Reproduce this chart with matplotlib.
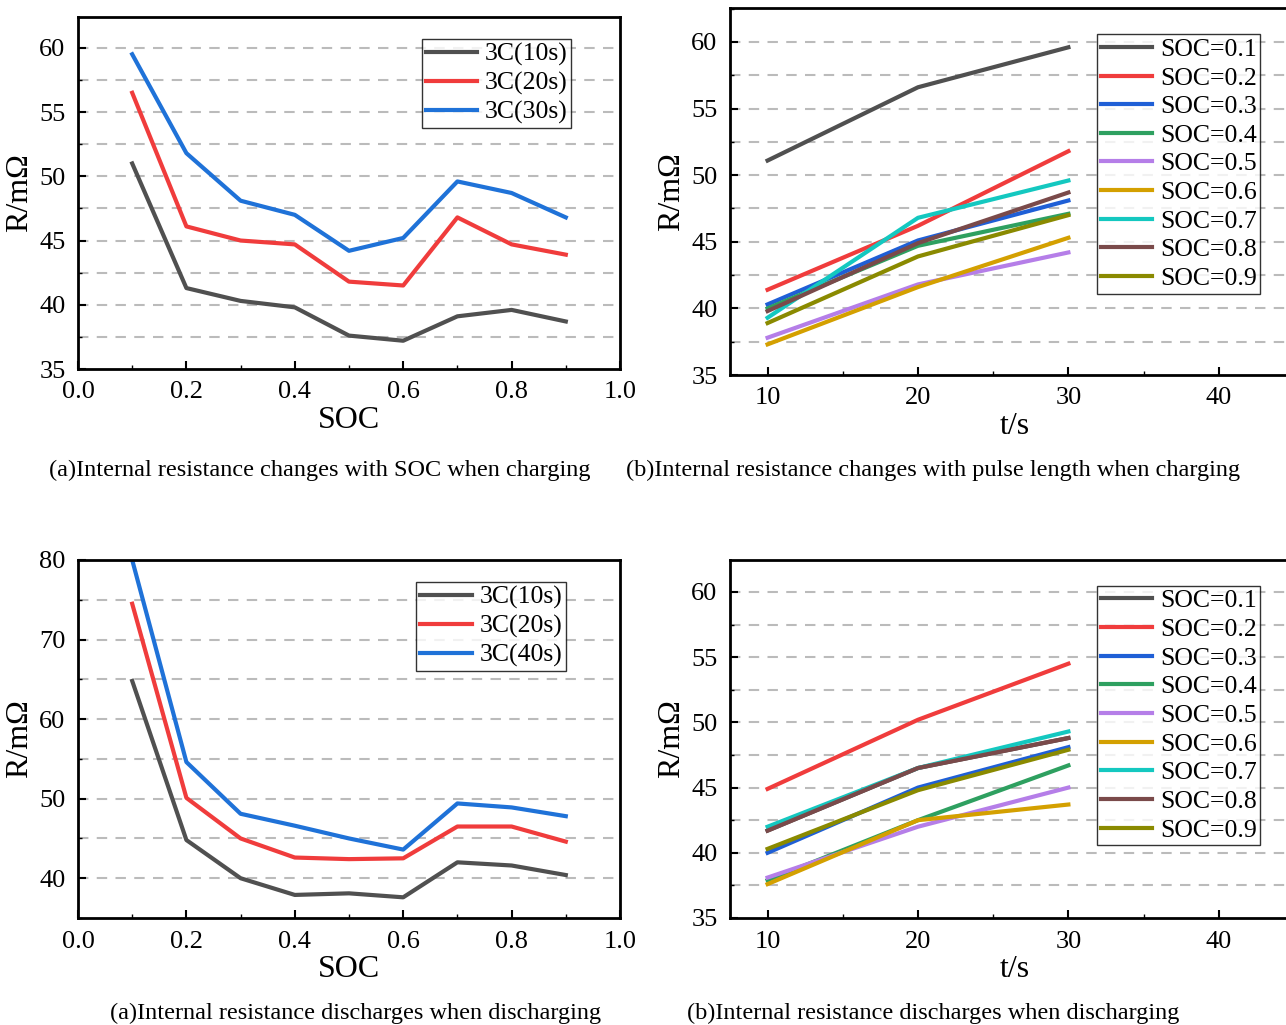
import numpy as np
import matplotlib.pyplot as plt

plt.rcParams['font.family'] = ['Liberation Serif', 'DejaVu Serif']
plt.rcParams['mathtext.fontset'] = 'stix'

soc = [0.1, 0.2, 0.3, 0.4, 0.5, 0.6, 0.7, 0.8, 0.9]
tlen = [10, 20, 30]

chg_10s = [51.0, 41.3, 40.3, 39.8, 37.6, 37.2, 39.1, 39.6, 38.7]
chg_20s = [56.5, 46.1, 45.0, 44.7, 41.8, 41.5, 46.8, 44.7, 43.9]
chg_30s = [59.5, 51.8, 48.1, 47.0, 44.2, 45.2, 49.6, 48.7, 46.8]

chg_soc = [
    [51.1, 56.6, 59.6],
    [41.4, 46.2, 51.8],
    [40.3, 45.1, 48.1],
    [40.0, 44.7, 47.1],
    [37.8, 41.8, 44.2],
    [37.3, 41.6, 45.3],
    [39.3, 46.8, 49.6],
    [39.8, 44.9, 48.7],
    [38.9, 43.9, 47.0],
]

dis_10s = [64.8, 44.8, 40.0, 37.9, 38.1, 37.6, 42.0, 41.6, 40.4]
dis_20s = [74.5, 50.1, 45.0, 42.6, 42.4, 42.5, 46.5, 46.5, 44.6]
dis_40s = [80.0, 54.6, 48.1, 46.6, 45.0, 43.6, 49.4, 48.9, 47.8]

dis_soc = [
    [41.7, 46.5, 48.8],
    [44.9, 50.2, 54.5],
    [40.0, 45.0, 48.1],
    [37.9, 42.5, 46.7],
    [38.1, 42.0, 45.0],
    [37.6, 42.5, 43.7],
    [42.0, 46.5, 49.3],
    [41.7, 46.5, 48.8],
    [40.3, 44.8, 47.9],
]

soc_labels = ['SOC=0.%d' % i for i in range(1, 10)]
cols9 = ['#505050', '#f03c3c', '#1f5fd6', '#2ea060', '#b57ee8',
         '#d4a000', '#14c8c0', '#7a4a4a', '#8a8a00']
cols3 = ['#505050', '#f03c3c', '#1f72d8']

fig = plt.figure(figsize=(12.86, 10.25), dpi=100)
W, H = 1286, 1025


def mkax(x0, y0, x1, y1):
    return fig.add_axes([x0 / W, 1 - y1 / H, (x1 - x0) / W, (y1 - y0) / H])


def style(ax, grid):
    for y in grid:
        ax.axhline(y, color='#bbbbbb', ls=(0, (5, 4)), lw=1.5, zorder=0)
    ax.tick_params(direction='in', labelsize=19, length=6, width=1.5, pad=9,
                   top=False, right=False)
    ax.tick_params(which='minor', direction='in', length=3, width=1)
    for s in ax.spines.values():
        s.set_linewidth(2)


def leg(ax, **kw):
    lg = ax.legend(fontsize=18.5, frameon=True, fancybox=False, edgecolor='black',
                   handlelength=2.0, borderpad=0.15, labelspacing=0.22,
                   handletextpad=0.3, borderaxespad=0.3, **kw)
    lg.get_frame().set_linewidth(1.0)


# top left
ax = mkax(78, 17, 620, 369)
for ys, lab, c in zip([chg_10s, chg_20s, chg_30s], ['3C(10s)', '3C(20s)', '3C(30s)'], cols3):
    ax.plot(soc, ys, color=c, lw=3, label=lab)
ax.set_xlim(0, 1.0)
ax.set_ylim(35, 62.4)
ax.set_xticks(np.arange(0, 1.01, 0.2))
ax.set_yticks([35, 40, 45, 50, 55, 60])
ax.xaxis.set_minor_locator(plt.MultipleLocator(0.1))
ax.yaxis.set_minor_locator(plt.MultipleLocator(2.5))
style(ax, np.arange(37.5, 62.5, 2.5))
ax.set_xlabel('SOC', fontsize=23, labelpad=2)
ax.set_ylabel('R/mΩ', fontsize=23)
leg(ax, loc='upper left', bbox_to_anchor=(0.62, 0.96))

# top right
ax = mkax(730, 8, 1300, 375)
for ys, lab, c in zip(chg_soc, soc_labels, cols9):
    ax.plot(tlen, ys, color=c, lw=3, label=lab)
ax.set_xlim(7.5, 45.4)
ax.set_ylim(35, 62.55)
ax.set_xticks([10, 20, 30, 40])
ax.set_yticks([35, 40, 45, 50, 55, 60])
ax.xaxis.set_minor_locator(plt.MultipleLocator(5))
ax.yaxis.set_minor_locator(plt.MultipleLocator(2.5))
style(ax, np.arange(37.5, 62.5, 2.5))
ax.set_xlabel('t/s', fontsize=23, labelpad=2)
ax.set_ylabel('R/mΩ', fontsize=23)
leg(ax, loc='upper left', bbox_to_anchor=(0.63, 0.95))

# bottom left
ax = mkax(78, 560, 620, 918)
for ys, lab, c in zip([dis_10s, dis_20s, dis_40s], ['3C(10s)', '3C(20s)', '3C(40s)'], cols3):
    ax.plot(soc, ys, color=c, lw=3, label=lab)
ax.set_xlim(0, 1.0)
ax.set_ylim(35, 80)
ax.set_xticks(np.arange(0, 1.01, 0.2))
ax.set_yticks([40, 50, 60, 70, 80])
ax.xaxis.set_minor_locator(plt.MultipleLocator(0.1))
ax.yaxis.set_minor_locator(plt.MultipleLocator(5))
style(ax, np.arange(40, 80, 5))
ax.set_xlabel('SOC', fontsize=23, labelpad=2)
ax.set_ylabel('R/mΩ', fontsize=23)
leg(ax, loc='upper left', bbox_to_anchor=(0.61, 0.96))

# bottom right
ax = mkax(730, 560, 1300, 918)
for ys, lab, c in zip(dis_soc, soc_labels, cols9):
    ax.plot(tlen, ys, color=c, lw=3, label=lab)
ax.set_xlim(7.5, 45.4)
ax.set_ylim(35, 62.45)
ax.set_xticks([10, 20, 30, 40])
ax.set_yticks([35, 40, 45, 50, 55, 60])
ax.xaxis.set_minor_locator(plt.MultipleLocator(5))
ax.yaxis.set_minor_locator(plt.MultipleLocator(2.5))
style(ax, np.arange(37.5, 62.5, 2.5))
ax.set_xlabel('t/s', fontsize=23, labelpad=2)
ax.set_ylabel('R/mΩ', fontsize=23)
leg(ax, loc='upper left', bbox_to_anchor=(0.63, 0.95))

fig.text(320 / W, 1 - 470 / H, '(a)Internal resistance changes with SOC when charging',
         fontsize=17.5, ha='center', va='center')
fig.text(933 / W, 1 - 470 / H, '(b)Internal resistance changes with pulse length when charging',
         fontsize=17.5, ha='center', va='center')
fig.text(356 / W, 1 - 1013 / H, '(a)Internal resistance discharges when discharging',
         fontsize=17.5, ha='center', va='center')
fig.text(933 / W, 1 - 1013 / H, '(b)Internal resistance discharges when discharging',
         fontsize=17.5, ha='center', va='center')

fig.savefig('out.png', dpi=100)
